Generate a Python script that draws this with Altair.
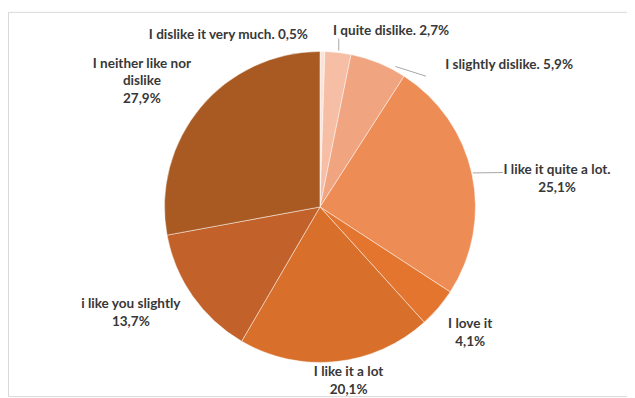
import altair as alt
import pandas as pd

# ---- data ----
labels = ["I dislike it very much.", "I quite dislike.", "I slightly dislike.",
          "I like it quite a lot.", "I love it", "I like it a lot",
          "i like you slightly", "I neither like nor dislike"]
values = [0.5, 2.7, 5.9, 25.1, 4.1, 20.1, 13.7, 27.9]
colors = ["#FBE3D8", "#F5BEA5", "#F0A47F", "#EE8C55",
          "#E3752E", "#D8702C", "#C2622A", "#A85A22"]

# ---- label layout (style, not data) ----
display = ["I dislike it very much.", "I quite dislike.", "I slightly dislike.",
           "I like it quite a lot.", "I love it", "I like it a lot",
           "i like you slightly", "I neither like nor\ndislike"]
separator = [" ", " ", " ", "\n", "\n", "\n", "\n", "\n"]
label_shift = [-28.9, 15.3, 30.9, 5.4, -0.5, -3.4, 5.8, -4.6]   # degrees from slice mid
label_r = [197, 192, 239, 241, 198, 178, 219, 220]
lead_a1 = [0, 0.2, 6.1, -0.5, 0, 0, 0, 0]
lead_r1 = [0, 159, 161, 158, 0, 0, 0, 0]
lead_a2 = [0, -0.3, 16.9, 1.4, 0, 0, 0, 0]
lead_r2 = [0, 171, 170, 188, 0, 0, 0, 0]

CX, CY, R = 315, 197, 157
LH = 18

texts = [f"{d}{s}{str(v).replace('.', ',')}%" for d, s, v in zip(display, separator, values)]
nlines = [t.count("\n") + 1 for t in texts]

df = pd.DataFrame({
    "idx": list(range(len(labels))),
    "label": labels,
    "value": values,
    "text": texts,
    "nl": nlines,
    "shift": label_shift,
    "lr": label_r,
    "a1": lead_a1, "r1": lead_r1, "a2": lead_a2, "r2": lead_r2,
})

base = alt.Chart(df).transform_window(
    cum="sum(value)", sort=[alt.SortField("idx")], frame=[None, 0]
).transform_joinaggregate(
    total="sum(value)"
).transform_calculate(
    mid="(datum.cum - datum.value/2) / datum.total * 2 * PI"
)

pie = alt.Chart(df).mark_arc(radius=R, stroke="white", strokeWidth=0.8,
                             strokeOpacity=0.6).encode(
    theta=alt.Theta("value:Q"),
    order=alt.Order("idx:Q"),
    color=alt.Color("label:N", scale=alt.Scale(domain=labels, range=colors), legend=None),
    x=alt.value(CX), y=alt.value(CY),
)

txt = base.transform_calculate(
    ang="datum.mid + datum.shift * PI / 180",
).transform_calculate(
    tx=f"{CX} + datum.lr * sin(datum.ang)",
    ty=f"{CY} - datum.lr * cos(datum.ang) - (datum.nl - 1) * {LH} / 2",
).mark_text(
    font="Lato", fontSize=13.7, fontWeight="bold", color="#383838",
    lineBreak="\n", lineHeight=LH, align="center", baseline="middle",
).encode(
    x=alt.X("tx:Q", scale=None), y=alt.Y("ty:Q", scale=None), text="text:N"
)

leads = base.transform_filter("datum.r1 > 0").transform_calculate(
    p1="datum.mid + datum.a1 * PI / 180",
    p2="datum.mid + datum.a2 * PI / 180",
).transform_calculate(
    lx1=f"{CX} + datum.r1 * sin(datum.p1)",
    ly1=f"{CY} - datum.r1 * cos(datum.p1)",
    lx2=f"{CX} + datum.r2 * sin(datum.p2)",
    ly2=f"{CY} - datum.r2 * cos(datum.p2)",
).mark_rule(color="#A6A6A6", strokeWidth=1).encode(
    x=alt.X("lx1:Q", scale=None), y=alt.Y("ly1:Q", scale=None),
    x2="lx2:Q", y2="ly2:Q",
)

chart = alt.layer(pie, leads, txt).properties(
    width=625, height=388,
    padding={"top": 2, "left": 0, "right": 0, "bottom": 0},
    autosize="none",
).configure_view(stroke="#D9D9D9", strokeWidth=1)

chart.save("out.html", embed_options={"renderer": "svg", "actions": False})
